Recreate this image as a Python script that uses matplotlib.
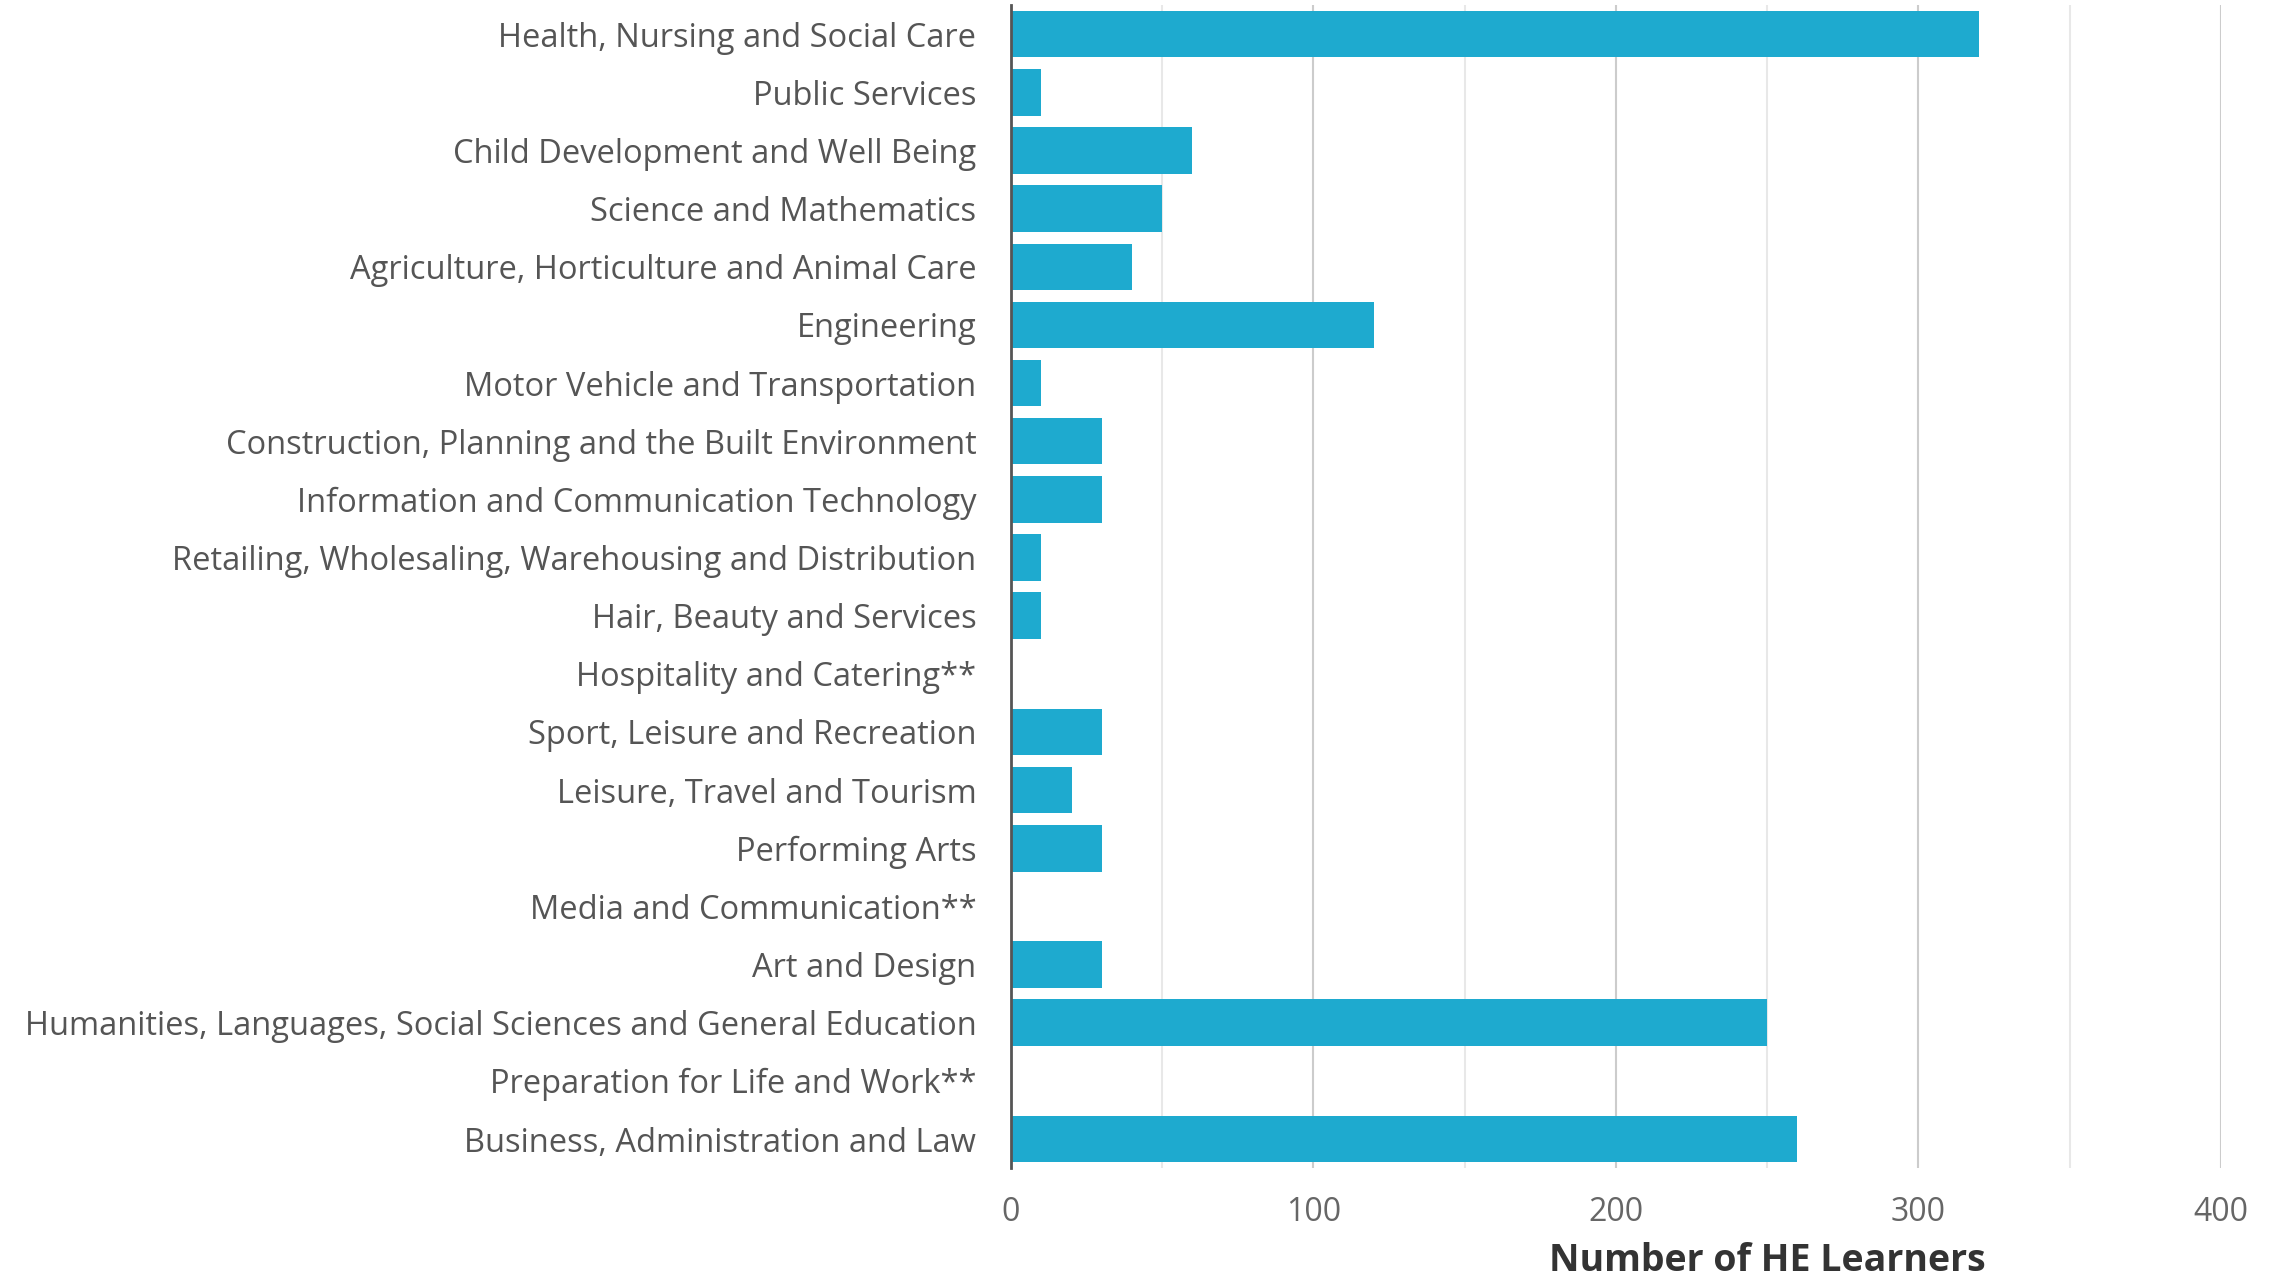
import matplotlib
matplotlib.use("Agg")
import matplotlib.pyplot as plt
from matplotlib.ticker import MultipleLocator

categories = [
    "Health, Nursing and Social Care",
    "Public Services",
    "Child Development and Well Being",
    "Science and Mathematics",
    "Agriculture, Horticulture and Animal Care",
    "Engineering",
    "Motor Vehicle and Transportation",
    "Construction, Planning and the Built Environment",
    "Information and Communication Technology",
    "Retailing, Wholesaling, Warehousing and Distribution",
    "Hair, Beauty and Services",
    "Hospitality and Catering**",
    "Sport, Leisure and Recreation",
    "Leisure, Travel and Tourism",
    "Performing Arts",
    "Media and Communication**",
    "Art and Design",
    "Humanities, Languages, Social Sciences and General Education",
    "Preparation for Life and Work**",
    "Business, Administration and Law",
]
learners = [320, 10, 60, 50, 40, 120, 10, 30, 30, 10, 10, 0, 30, 20, 30, 0, 30, 250, 0, 260]
x_ticks = [0, 100, 200, 300, 400]

plt.rcParams['font.family'] = ['Open Sans', 'DejaVu Sans']

fig = plt.figure(figsize=(22.75, 12.78), dpi=100)
ax = fig.add_axes([0.4444, 0.086, 0.5318, 0.910])

ypos = list(range(len(categories)))
ax.barh(ypos, learners, height=0.8, color="#1eaacf", zorder=3)

ax.set_ylim(len(categories) - 0.5, -0.5)
ax.set_xlim(0, 400)
ax.set_yticks(ypos)
ax.set_yticklabels(categories, fontsize=23.5, color="#555555")
ax.set_xticks(x_ticks)
ax.set_xticklabels([str(t) for t in x_ticks], fontsize=23, color="#666666")
ax.xaxis.set_minor_locator(MultipleLocator(50))
ax.tick_params(axis="both", which="both", length=0)
ax.tick_params(axis="x", pad=20)
ax.tick_params(axis="y", pad=25)

ax.grid(axis="x", which="major", color="#cccccc", linewidth=1.5, zorder=0)
ax.grid(axis="x", which="minor", color="#e8e8e8", linewidth=1.5, zorder=0)

for s in ["top", "right", "bottom"]:
    ax.spines[s].set_visible(False)
ax.spines["left"].set_color("#555555")
ax.spines["left"].set_linewidth(2)
ax.spines["left"].set_zorder(4)

ax.text(0.625, -0.08, "Number of HE Learners", transform=ax.transAxes,
        ha="center", va="center", fontsize=27, fontweight="bold", color="#333333")

fig.savefig("out.png", dpi=100)
